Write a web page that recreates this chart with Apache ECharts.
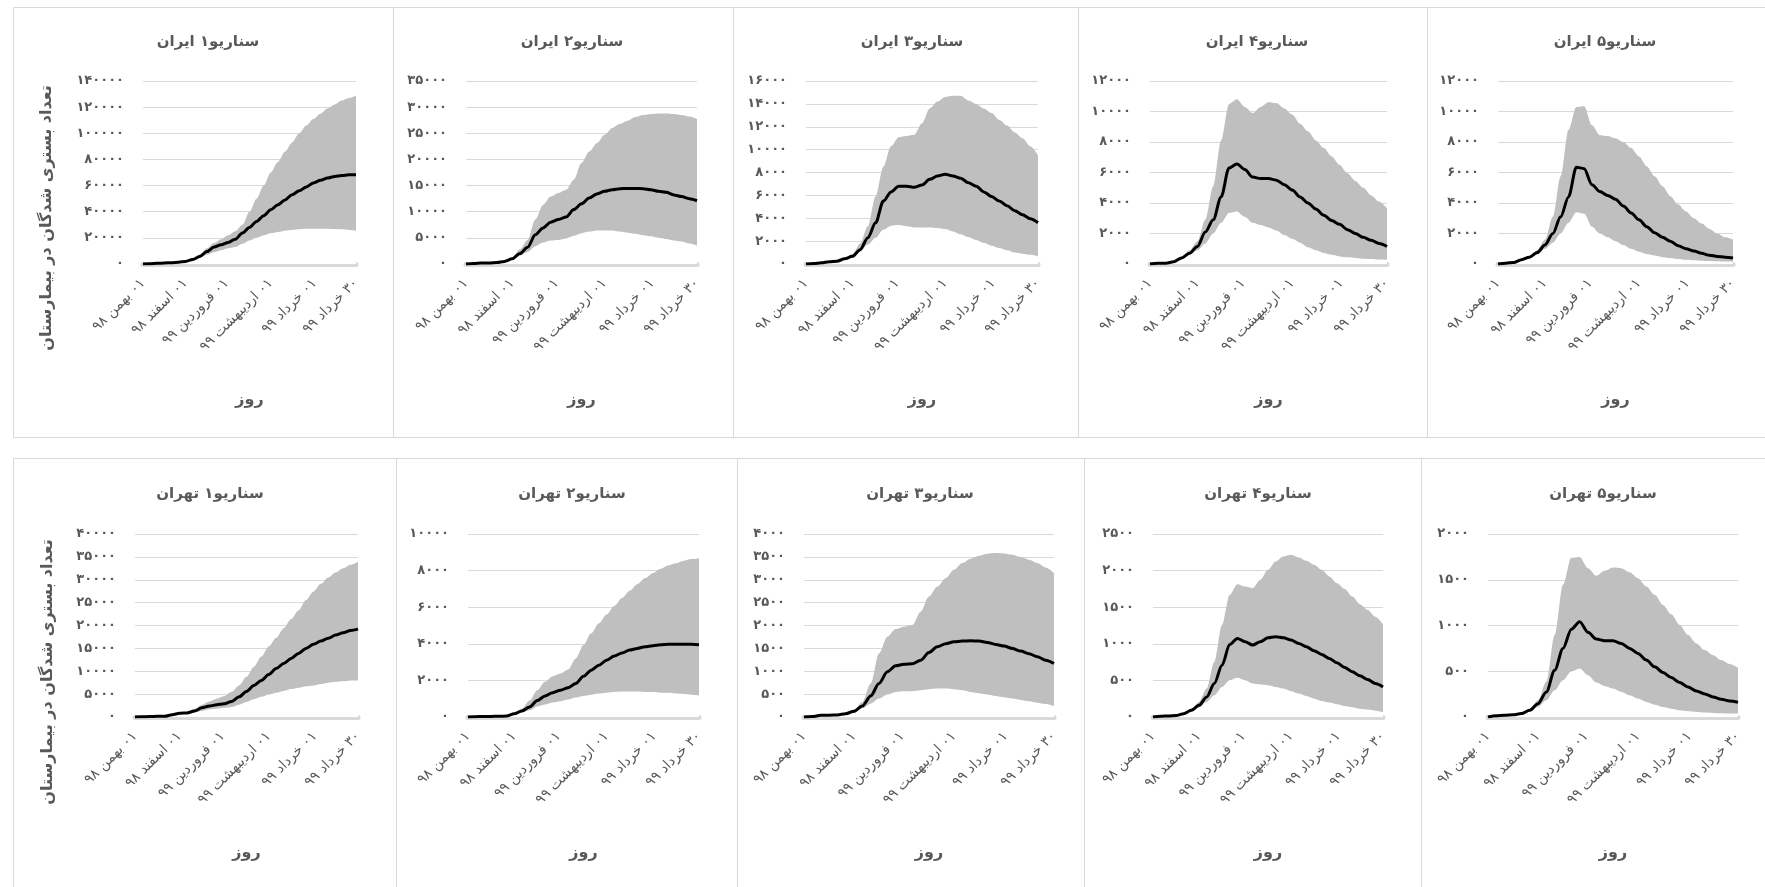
<!doctype html>
<html lang="fa">
<head>
<meta charset="utf-8">
<title>سناریوهای بستری بیمارستان</title>
<script src="https://cdn.jsdelivr.net/npm/echarts@6.0.0/dist/echarts.min.js"></script>
<style>
  html, body { margin: 0; padding: 0; background: #fff; }
  #chart { width: 1765px; height: 887px; }
</style>
</head>
<body>
<div id="chart"></div>
<script>
// day index from 01 Bahman 98 (0) to 30 Khordad 99 (150), sampled every 5 days
var days = [0,5,10,15,20,25,30,35,40,45,50,55,60,65,70,75,80,85,90,95,100,105,110,115,120,125,130,135,140,145,150];

// x axis labels
var dateTicks = [0, 30, 59, 90, 121, 150];
var dateLabels = ['۰۱ بهمن ۹۸', '۰۱ اسفند ۹۸', '۰۱ فروردین ۹۹', '۰۱ اردیبهشت ۹۹', '۰۱ خرداد ۹۹', '۳۰ خرداد ۹۹'];

var titles = ['سناریو۱ ایران', 'سناریو۲ ایران', 'سناریو۳ ایران', 'سناریو۴ ایران', 'سناریو۵ ایران',
              'سناریو۱ تهران', 'سناریو۲ تهران', 'سناریو۳ تهران', 'سناریو۴ تهران', 'سناریو۵ تهران'];
var yName = 'تعداد بستری شدگان در بیمارستان';
var xName = 'روز';
var yMax  = [140000, 35000, 16000, 12000, 12000, 40000, 10000, 4000, 2500, 2000];
var yStep = [20000, 5000, 2000, 2000, 2000, 5000, 2000, 500, 500, 500];

// Iran
var iran1Mean = [0,200,500,800,1000,1300,2000,3500,5800,9500,13000,14800,16500,19000,23700,28000,32600,37000,41500,45300,49000,53000,56000,59000,62000,64000,65700,67000,67700,68200,68300];
var iran1Low  = [0,150,400,650,850,1100,1600,3000,4800,7000,9000,10500,12000,13000,15500,18000,20000,22000,23500,24500,25500,26000,26500,27000,27000,27000,27000,26800,26500,26000,25500];
var iran1High = [0,250,600,950,1200,1500,2400,4200,7500,12000,16000,19000,22000,25000,30000,40000,50000,60000,70000,78000,86000,93000,100000,106000,111000,115000,119000,122000,125000,127000,129000];

var iran2Mean = [0,100,200,200,300,500,1000,2000,3200,5600,6900,8000,8500,9000,10400,11500,12600,13400,13900,14200,14400,14450,14450,14400,14200,13900,13700,13200,12900,12500,12100];
var iran2Low  = [0,80,150,150,250,400,800,1600,2300,3400,4100,4500,4600,4900,5400,5900,6200,6400,6400,6400,6200,6000,5800,5500,5300,5000,4800,4500,4300,3900,3500];
var iran2High = [0,120,250,250,350,600,1200,2800,4600,8500,11300,12900,13600,14200,16100,19300,21500,23100,24700,26000,26800,27400,28100,28500,28700,28800,28800,28700,28500,28200,27700];

var iran3Mean = [0,50,100,200,250,450,670,1250,2300,3600,5500,6300,6800,6800,6700,6900,7400,7700,7850,7700,7500,7100,6800,6300,5900,5500,5100,4650,4300,3950,3600];
var iran3Low  = [0,40,80,160,200,380,580,1100,1700,2300,3000,3350,3400,3300,3200,3200,3200,3150,3050,2850,2600,2350,2100,1850,1600,1400,1200,1000,900,800,670];
var iran3High = [0,60,120,240,300,550,850,1800,3300,5900,8500,10300,11100,11200,11300,12300,13600,14200,14600,14700,14700,14300,14000,13600,13200,12600,12100,11500,11000,10300,9500];

var iran4Mean = [0,50,50,150,400,700,1150,2100,2900,4400,6300,6550,6200,5700,5600,5600,5500,5200,4850,4400,4000,3600,3200,2850,2600,2250,2000,1750,1550,1350,1150];
var iran4Low  = [0,40,40,120,330,600,900,1350,2000,2700,3350,3450,3100,2700,2550,2400,2200,1900,1650,1400,1100,900,720,600,500,440,400,350,330,300,280];
var iran4High = [0,60,60,180,480,900,1500,2900,5100,8100,10500,10800,10300,9900,10300,10600,10550,10200,9800,9200,8700,8100,7600,7050,6500,5950,5450,5000,4500,4100,3650];

var iran5Mean = [0,50,100,280,450,750,1250,2000,3100,4400,6350,6250,5200,4750,4500,4250,3800,3350,2900,2450,2050,1750,1500,1200,1000,850,700,570,500,450,400];
var iran5Low  = [0,40,80,230,380,600,1000,1400,2000,2700,3400,3300,2450,2000,1750,1500,1250,1000,800,650,550,450,400,330,280,250,220,200,180,160,150];
var iran5High = [0,60,120,330,530,900,1600,3100,5750,8800,10300,10350,9100,8450,8400,8250,8000,7600,7050,6400,5750,5100,4450,3900,3450,3000,2650,2300,2000,1750,1600];

// Tehran
var tehran1Mean = [0,50,100,150,150,500,800,900,1300,2000,2400,2700,2900,3400,4400,5600,6900,8000,9300,10600,11700,12800,13900,15000,15900,16600,17200,17900,18400,18900,19200];
var tehran1Low  = [0,40,80,120,120,400,700,800,1000,1300,1700,1800,2000,2200,2700,3300,3900,4400,4900,5300,5700,6100,6400,6700,6900,7200,7500,7700,7800,8000,8000];
var tehran1High = [0,60,120,180,180,600,900,1100,1800,2700,3400,4000,4600,5500,6900,8800,11000,13200,15400,17300,19400,21400,23300,25600,27400,29100,30500,31600,32500,33300,33900];

var tehran2Mean = [0,20,30,30,40,50,180,330,550,900,1150,1330,1460,1600,1830,2230,2560,2830,3100,3330,3500,3660,3750,3840,3900,3950,3970,3970,3970,3970,3950];
var tehran2Low  = [0,15,25,25,30,40,150,250,370,580,680,790,860,950,1060,1150,1220,1280,1330,1370,1390,1390,1390,1370,1370,1330,1320,1280,1260,1220,1190];
var tehran2High = [0,25,35,35,50,60,220,460,900,1460,1920,2230,2380,2600,3200,3930,4570,5120,5600,6070,6500,6900,7260,7590,7860,8100,8280,8400,8540,8630,8680];

var tehran3Mean = [0,10,37,40,45,73,124,241,460,731,987,1119,1155,1163,1243,1411,1536,1601,1645,1660,1667,1660,1631,1587,1550,1499,1440,1382,1316,1243,1170];
var tehran3Low  = [0,8,30,32,36,60,100,190,292,402,490,548,563,563,585,607,622,622,607,585,548,519,490,460,431,402,373,344,314,285,241];
var tehran3High = [0,12,44,48,54,90,150,330,731,1389,1755,1923,1974,2011,2303,2633,2852,3035,3217,3364,3459,3525,3569,3583,3576,3547,3496,3437,3364,3269,3144];

var tehran4Mean = [0,10,15,20,46,91,160,274,457,708,992,1074,1028,983,1028,1083,1097,1083,1051,1005,960,905,855,800,740,676,617,562,512,457,411];
var tehran4Low  = [0,8,12,16,38,70,130,206,297,411,503,535,503,457,443,434,411,388,352,320,288,251,219,197,174,151,133,114,101,87,69];
var tehran4High = [0,12,18,24,55,114,206,388,754,1257,1668,1814,1782,1760,1874,2011,2125,2194,2217,2180,2134,2080,2011,1920,1828,1750,1645,1540,1463,1371,1266];

var tehran5Mean = [0,15,20,25,37,73,146,274,512,750,960,1040,925,852,834,834,804,750,695,622,548,486,431,377,329,285,252,219,194,176,161];
var tehran5Low  = [0,12,16,20,30,55,110,183,292,402,496,530,457,377,340,311,274,238,201,165,135,110,91,73,62,55,48,44,40,37,37];
var tehran5High = [0,18,24,30,45,90,183,384,896,1444,1740,1750,1627,1543,1598,1634,1627,1583,1517,1426,1335,1225,1122,1005,896,804,731,676,622,578,537];

var means = [iran1Mean, iran2Mean, iran3Mean, iran4Mean, iran5Mean, tehran1Mean, tehran2Mean, tehran3Mean, tehran4Mean, tehran5Mean];
var lows  = [iran1Low, iran2Low, iran3Low, iran4Low, iran5Low, tehran1Low, tehran2Low, tehran3Low, tehran4Low, tehran5Low];
var highs = [iran1High, iran2High, iran3High, iran4High, iran5High, tehran1High, tehran2High, tehran3High, tehran4High, tehran5High];

// layout of the 10 small charts (pixels)
var gridLeft  = [143, 466, 806, 1150, 1498, 135, 468, 804, 1153, 1488];
var gridWidth = [213, 231, 232, 237, 235, 223, 231, 250, 230, 250];
var titleX    = [203, 567, 907, 1252, 1600, 205, 567, 915, 1253, 1598];
var frames = [
  [13, 7, 380, 430], [393, 7, 340, 430], [733, 7, 345, 430], [1078, 7, 349, 430], [1427, 7, 340, 430],
  [13, 458, 383, 440], [396, 458, 341, 440], [737, 458, 347, 440], [1084, 458, 337, 440], [1421, 458, 346, 440]
];

var FONT = '"DejaVu Sans", "Noto Sans", sans-serif';
var TXT = '#595959';

function fa(n) {
  return String(n).replace(/\d/g, function (d) { return '۰۱۲۳۴۵۶۷۸۹'[d]; });
}
function rtl(s) { return '\u202B' + s + '\u202C'; }
function pairs(ys) { return days.map(function (d, i) { return [d, ys[i]]; }); }

var chart = echarts.init(document.getElementById('chart'), null, { renderer: 'canvas' });

var option = {
  animation: false,
  textStyle: { fontFamily: FONT },
  title: [], grid: [], xAxis: [], yAxis: [], series: [],
  graphic: []
};

for (var i = 0; i < 10; i++) {
  var gridTop = i < 5 ? 81 : 534;

  option.title.push({
    text: rtl(titles[i]),
    left: titleX[i], top: i < 5 ? 30 : 482, textAlign: 'center',
    textStyle: { fontFamily: FONT, fontSize: 15, fontWeight: 'bold', color: TXT }
  });

  option.grid.push({ left: gridLeft[i], top: gridTop, width: gridWidth[i], height: 183, containLabel: false, outerBoundsMode: 'none' });

  option.xAxis.push({
    type: 'value', gridIndex: i, min: 0, max: 150,
    splitLine: { show: false },
    axisLine: { lineStyle: { color: '#d9d9d9', width: 5 } },
    axisTick: { show: false },
    axisLabel: {
      customValues: dateTicks,
      formatter: function (v) { var k = dateTicks.indexOf(v); return k < 0 ? '' : rtl(dateLabels[k]); },
      rotate: 45, margin: 17, fontSize: 14, color: TXT, fontFamily: FONT
    },
    name: xName, nameLocation: 'middle', nameGap: 128,
    nameTextStyle: { fontSize: 16, fontWeight: 'bold', color: TXT, fontFamily: FONT }
  });

  option.yAxis.push({
    type: 'value', gridIndex: i, min: 0, max: yMax[i], interval: yStep[i],
    axisLine: { show: false }, axisTick: { show: false },
    splitLine: { lineStyle: { color: '#d9d9d9', width: 1 } },
    axisLabel: { formatter: function (v) { return fa(v); }, margin: 19, fontSize: 13, fontWeight: 'bold', color: TXT, fontFamily: FONT }
  });

  // upper bound filled grey, lower bound filled white on top of it
  option.series.push({
    type: 'line', xAxisIndex: i, yAxisIndex: i,
    data: pairs(highs[i]), symbol: 'none', smooth: 0.3, smoothMonotone: 'x',
    lineStyle: { width: 0, opacity: 0 }, areaStyle: { color: '#bfbfbf', opacity: 1 }, silent: true
  });
  option.series.push({
    type: 'line', xAxisIndex: i, yAxisIndex: i,
    data: pairs(lows[i]), symbol: 'none', smooth: 0.3, smoothMonotone: 'x',
    lineStyle: { width: 0, opacity: 0 }, areaStyle: { color: '#ffffff', opacity: 1 }, silent: true
  });
  option.series.push({
    type: 'line', xAxisIndex: i, yAxisIndex: i,
    data: pairs(means[i]), symbol: 'none', smooth: 0.3, smoothMonotone: 'x',
    lineStyle: { color: '#000', width: 3 }
  });

  option.graphic.push({
    type: 'rect', silent: true, z: -1,
    shape: { x: frames[i][0] + 0.5, y: frames[i][1] + 0.5, width: frames[i][2], height: frames[i][3] },
    style: { fill: 'none', stroke: '#d9d9d9', lineWidth: 1 }
  });
}

// y axis name for the first column
[[47, 218], [48, 672]].forEach(function (p) {
  option.graphic.push({
    type: 'text', x: p[0], y: p[1], rotation: Math.PI / 2,
    style: { text: rtl(yName), fill: TXT, font: 'bold 16px ' + FONT, textAlign: 'center', textVerticalAlign: 'middle' }
  });
});

chart.setOption(option);
</script>
</body>
</html>
